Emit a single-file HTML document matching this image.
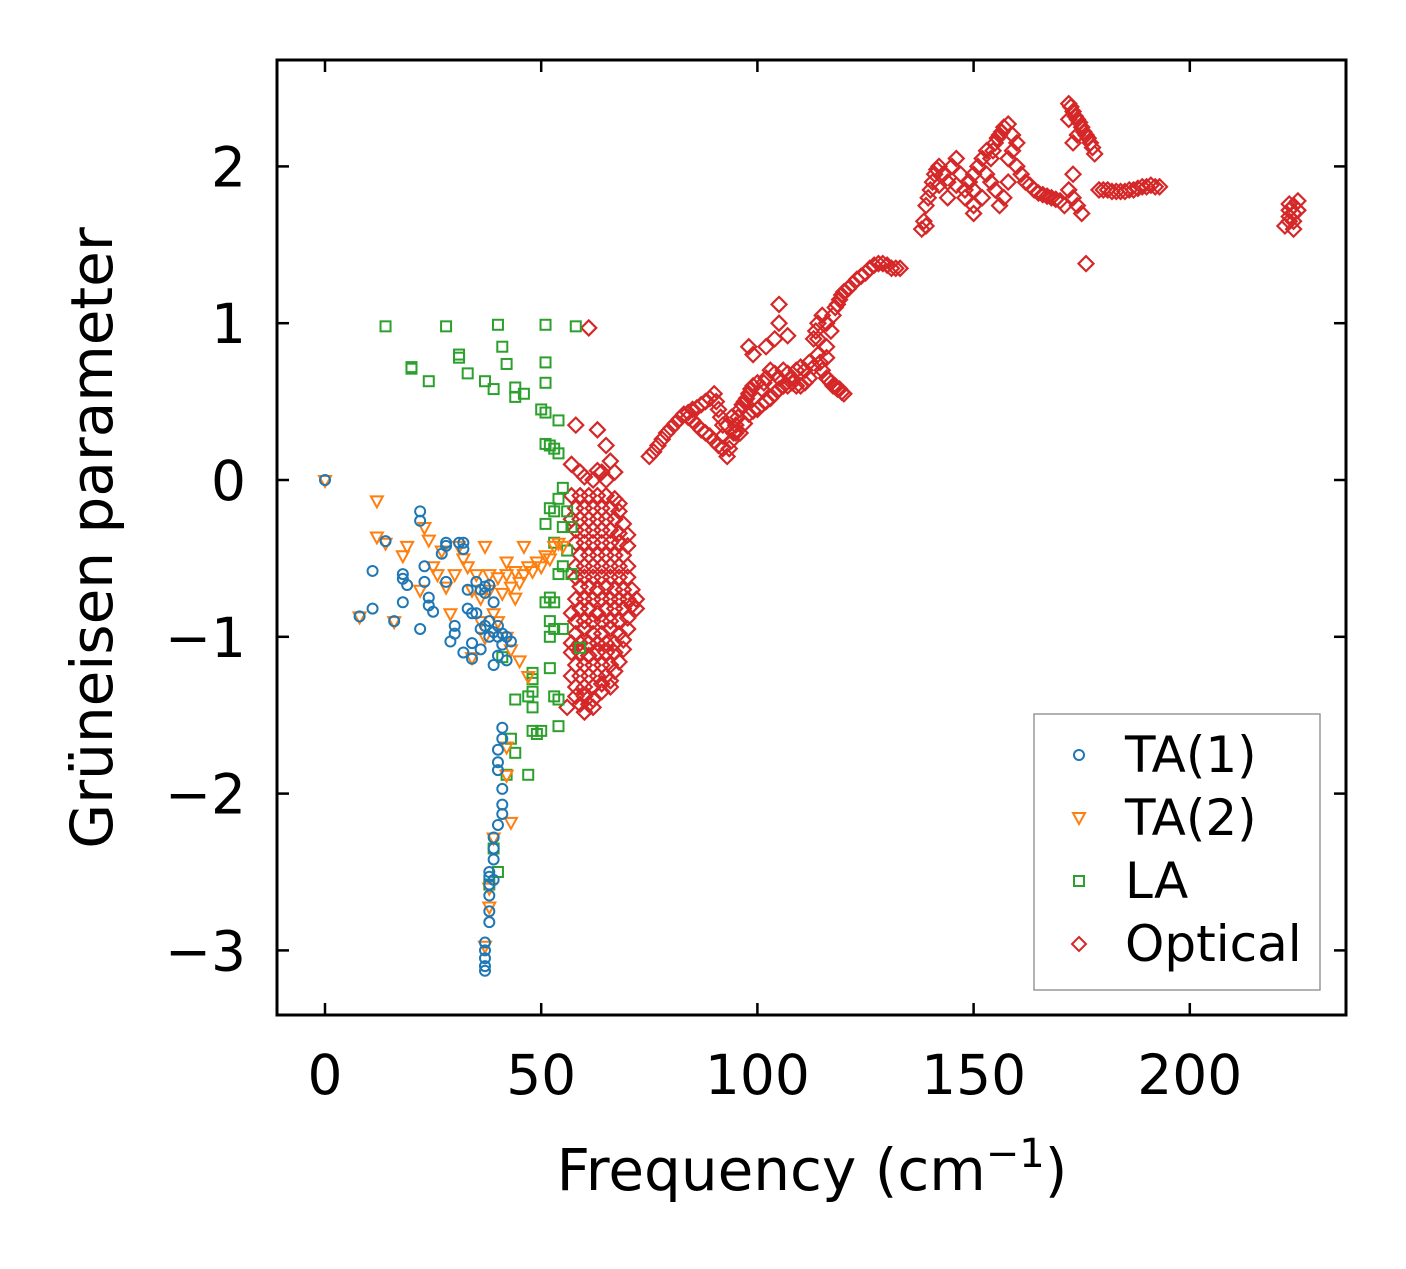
<!DOCTYPE html>
<html><head><meta charset="utf-8"><style>
body{margin:0;background:#fff}
svg text{font-family:"DejaVu Sans","Liberation Sans",sans-serif;fill:#000}
</style></head><body>
<svg id="chart" width="1406" height="1264" viewBox="0 0 1406 1264" xmlns="http://www.w3.org/2000/svg">
<rect width="1406" height="1264" fill="#fff"/>
<g id="marks"></g>
<rect x="277" y="60" width="1069" height="955" fill="none" stroke="#000" stroke-width="3"/>
<g id="ticks"></g>
<text x="812" y="1190" font-size="58" text-anchor="middle">Frequency (cm<tspan dy="-23" font-size="40">−1</tspan><tspan dy="23">)</tspan></text>
<text transform="translate(112,538) rotate(-90)" font-size="58" text-anchor="middle">Grüneisen parameter</text>
<g>
<rect x="1034" y="714" width="286" height="276" fill="#fff" stroke="#999" stroke-width="1.5"/>
<circle cx="1079" cy="755" r="5" fill="none" stroke="#1f77b4" stroke-width="2"/>
<text x="1125" y="772" font-size="50">TA(1)</text>
<path d="M1073,813 L1085,813 L1079,824 Z" fill="none" stroke="#ff7f0e" stroke-width="2"/>
<text x="1125" y="835" font-size="50">TA(2)</text>
<rect x="1074" y="876" width="10" height="10" fill="none" stroke="#2ca02c" stroke-width="2"/>
<text x="1125" y="898" font-size="50">LA</text>
<path d="M1079,937 L1086,944 L1079,951 L1072,944 Z" fill="none" stroke="#d62728" stroke-width="2"/>
<text x="1125" y="961" font-size="50">Optical</text>
</g>
</svg>
<script>
const xTicks=[0,50,100,150,200];
const yTicks=[2,1,0,-1,-2,-3];
const yTickLabels=["2","1","0","−1","−2","−3"];
const ta1=[[0,0],[8,-0.87],[11,-0.82],[11,-0.58],[14,-0.39],[16,-0.9],[18,-0.6],[18,-0.63],[18,-0.78],[19,-0.67],[22,-0.2],[22,-0.26],[22,-0.95],[23,-0.55],[23,-0.65],[24,-0.75],[24,-0.8],[25,-0.84],[27,-0.47],[28,-0.4],[28,-0.42],[28,-0.65],[29,-1.03],[30,-0.93],[30,-0.98],[31,-0.4],[32,-0.4],[32,-0.44],[32,-1.1],[33,-0.7],[33,-0.82],[34,-0.85],[34,-1.04],[34,-1.14],[35,-0.85],[35,-0.65],[36,-0.7],[36,-1.08],[37,-0.72],[37,-0.93],[38,-0.9],[38,-0.67],[38,-1.0],[39,-0.78],[39,-1.18],[40,-0.93],[40,-1.0],[40,-1.12],[41,-0.98],[41,-1.05],[42,-1.15],[42,-1.0],[43,-1.03],[41,-1.58],[41,-1.65],[40,-1.72],[40,-1.8],[40,-1.85],[41,-1.97],[41,-2.07],[41,-2.13],[40,-2.2],[39,-2.28],[39,-2.35],[39,-2.42],[38,-2.5],[38,-2.53],[38,-2.58],[38,-2.65],[38,-2.75],[38,-2.82],[37,-2.95],[37,-3.0],[37,-3.05],[37,-3.1],[37,-3.13],[39,-2.55],[36,-0.95],[37,-0.68],[39,-0.97]];
const ta2=[[0,0],[8,-0.87],[12,-0.13],[12,-0.36],[14,-0.4],[16,-0.9],[18,-0.48],[19,-0.42],[22,-0.7],[23,-0.3],[24,-0.38],[25,-0.55],[26,-0.6],[27,-0.45],[28,-0.68],[29,-0.85],[30,-0.6],[31,-0.42],[32,-0.5],[33,-0.55],[34,-0.7],[35,-0.6],[36,-0.75],[37,-0.42],[38,-0.7],[38,-0.6],[39,-0.85],[40,-0.62],[40,-0.9],[41,-0.72],[42,-0.6],[42,-0.52],[43,-0.68],[44,-0.75],[44,-0.58],[45,-0.65],[46,-0.6],[46,-0.42],[47,-0.55],[48,-0.58],[49,-0.52],[50,-0.55],[51,-0.48],[52,-0.5],[53,-0.42],[54,-0.4],[55,-0.42],[42,-1.0],[43,-1.08],[45,-1.15],[47,-1.25],[42,-1.7],[42,-1.88],[43,-2.18],[39,-2.28],[38,-2.6],[38,-2.72],[37,-2.97],[34,-1.13],[37,-1.0],[36,-0.9]];
const la=[[14,0.98],[20,0.71],[20,0.72],[24,0.63],[28,0.98],[31,0.8],[31,0.78],[33,0.68],[37,0.63],[39,0.58],[40,0.99],[41,0.85],[42,0.74],[44,0.59],[44,0.53],[46,0.55],[51,0.99],[51,0.75],[51,0.62],[50,0.45],[51,0.43],[51,0.23],[52,0.22],[54,0.38],[53,0.2],[54,0.17],[58,0.98],[52,-0.18],[51,-0.28],[53,-0.2],[54,-0.12],[55,-0.3],[56,-0.45],[55,-0.55],[53,-0.4],[54,-0.6],[52,-0.75],[51,-0.78],[53,-0.78],[52,-0.9],[53,-0.95],[52,-1.0],[55,-0.95],[57,-0.3],[57,-0.6],[59,-1.07],[52,-1.2],[48,-1.27],[48,-1.23],[48,-1.35],[47,-1.38],[44,-1.4],[48,-1.45],[48,-1.6],[49,-1.62],[50,-1.6],[53,-1.38],[54,-1.4],[54,-1.57],[47,-1.88],[44,-1.74],[43,-1.65],[42,-1.88],[40,-2.5],[39,-2.35],[38,-2.58],[41,-1.13],[55,-0.05],[56,-0.2]];
const optical=[[61,0.97],[58,0.35],[63,0.32],[65,0.22],
[57,0.1],[59,0.05],[62,0.0],[64,0.05],[66,0.12],[67,0.05],[60,0.02],[63,0.06],[65,0.0],
[57,-0.1],[59,-0.1],[61,-0.1],[63,-0.1],[65,-0.1],[67,-0.12],[68,-0.15],
[58,-0.18],[60,-0.18],[62,-0.18],[64,-0.18],[66,-0.18],[68,-0.2],
[57,-0.25],[59,-0.25],[61,-0.25],[63,-0.25],[65,-0.25],[67,-0.25],[69,-0.28],
[58,-0.32],[60,-0.32],[62,-0.32],[64,-0.32],[66,-0.32],[68,-0.34],[70,-0.35],
[58,-0.4],[60,-0.4],[62,-0.4],[64,-0.4],[66,-0.4],[68,-0.4],[70,-0.42],
[59,-0.48],[61,-0.48],[63,-0.48],[65,-0.48],[67,-0.48],[69,-0.48],
[58,-0.55],[60,-0.55],[62,-0.55],[64,-0.55],[66,-0.55],[68,-0.55],[70,-0.55],
[58,-0.62],[60,-0.62],[62,-0.62],[64,-0.62],[66,-0.62],[68,-0.62],[70,-0.62],
[59,-0.68],[61,-0.68],[63,-0.7],[65,-0.68],[67,-0.7],[69,-0.7],[71,-0.7],
[58,-0.76],[60,-0.76],[62,-0.76],[64,-0.76],[66,-0.76],[68,-0.76],[70,-0.76],[72,-0.76],
[57,-0.85],[59,-0.82],[61,-0.82],[63,-0.85],[65,-0.82],[67,-0.82],[69,-0.82],[71,-0.8],[72,-0.82],
[58,-0.9],[60,-0.9],[62,-0.9],[64,-0.9],[66,-0.9],[68,-0.9],[70,-0.88],
[58,-0.98],[60,-0.95],[62,-0.98],[64,-0.98],[66,-0.95],[68,-0.98],[70,-0.95],
[57,-1.04],[59,-1.04],[61,-1.04],[63,-1.04],[65,-1.04],[67,-1.04],[69,-1.02],
[57,-1.1],[59,-1.1],[61,-1.12],[63,-1.1],[65,-1.1],[67,-1.1],[69,-1.08],
[58,-1.18],[60,-1.18],[62,-1.18],[64,-1.18],[66,-1.18],[68,-1.16],
[57,-1.25],[59,-1.25],[61,-1.25],[63,-1.25],[65,-1.25],[67,-1.22],
[58,-1.32],[60,-1.32],[62,-1.32],[64,-1.3],[66,-1.28],
[58,-1.38],[60,-1.38],[62,-1.4],[64,-1.35],[66,-1.32],[56,-1.45],[60,-1.48],[62,-1.45],[59,-1.43],[61,-1.43],
[75,0.15],[76,0.18],[77,0.22],[78,0.26],[79,0.3],[80,0.33],[81,0.36],[82,0.39],[83,0.42],[84,0.43],[85,0.45],[86,0.46],[87,0.48],[88,0.5],[89,0.52],[90,0.55],[90.5,0.5],[91,0.45],[91.5,0.4],[92,0.35],[92,0.28],[92,0.2],[93,0.15],[93.5,0.2],[94,0.25],[94.5,0.3],[95,0.35],[95.5,0.4],[96,0.45],[96.5,0.48],[97,0.5],[97.5,0.52],[98,0.55],[98.5,0.58],[99,0.6],[100,0.62],[101,0.58],[101.5,0.62],[102,0.65],[103,0.7],[104,0.68],[105,0.65],[106,0.7],[107,0.68],[108,0.65],[109,0.7],[110,0.72],[111,0.7],[112,0.75],[113,0.72],
[84,0.4],[85,0.38],[86,0.35],[87,0.32],[88,0.3],[89,0.28],[90,0.25],[91,0.22],[93,0.35],[94,0.4],[95,0.3],[96,0.3],[97,0.36],[98,0.42],[99,0.44],[100,0.45],[101,0.48],[102,0.5],[103,0.52],[104,0.55],[105,0.58],[106,0.6],[107,0.6],[108,0.62],[109,0.6],[110,0.6],[111,0.62],[112,0.65],[114,0.8],[114.5,0.75],[115,0.7],[116,0.65],[116.5,0.64],[117,0.62],[117.5,0.6],[118,0.6],[118.5,0.58],[119,0.58],[119.5,0.56],[120,0.55],
[113,0.9],[113.5,0.95],[114,1.0],[115,1.05],[116,1.0],[117,0.95],[117.5,1.05],[118,1.1],[118.5,1.12],[119,1.15],[119.5,1.18],[120,1.2],[121,1.22],[122,1.25],[123,1.28],[124,1.3],[125,1.32],[126,1.35],[127,1.37],[128,1.38],[129,1.38],[130,1.37],[131,1.35],[132,1.35],[133,1.35],[114,0.9],[116,0.85],[116,0.78],
[98,0.85],[99,0.8],[102,0.85],[105,1.12],[105,1.0],[107,0.92],[104,0.9],
[138,1.6],[138.5,1.65],[139,1.75],[139.5,1.8],[140,1.85],[140.5,1.9],[141,1.95],[141.5,1.98],[142,2.0],[143,1.95],[144,1.9],[145,2.0],[146,2.05],[147,1.95],[148,1.85],[149,1.9],[150,1.75],[150,1.95],[151,2.0],[152,2.05],[153,2.1],[154,2.05],[154.5,2.1],[155,2.15],[155.5,2.18],[156,2.2],[156.5,2.22],[157,2.25],[158,2.27],[159,2.2],[159,2.1],[160,2.0],[161,1.95],[162,1.9],[158,1.9],[157,1.8],[156,1.75],[155,1.85],[153,1.95],[152,1.8],[144,1.8],[148,1.8],[142,1.88],[146,1.88],[150,1.85],[154,1.9],[158,2.05],[160,2.15],[139,1.62],[150,1.7],
[163,1.88],[164,1.85],[165,1.83],[166,1.82],[167,1.81],[168,1.8],[169,1.79],[170,1.78],[171,1.75],[172,1.85],[173,1.95],[173,1.8],[174,1.75],[175,1.7],[176,1.38],
[172,2.4],[172.5,2.38],[173,2.35],[173.5,2.32],[174,2.3],[174.5,2.28],[175,2.25],[175.5,2.22],[176,2.2],[176.5,2.18],[177,2.15],[177.5,2.12],[178,2.08],[172,2.3],[174,2.2],[173,2.15],
[179,1.85],[180,1.85],[181,1.85],[182,1.84],[183,1.84],[184,1.84],[185,1.84],[186,1.85],[187,1.85],[188,1.86],[189,1.87],[190,1.87],[191,1.88],[192,1.87],[193,1.87],
[222,1.62],[223,1.65],[224,1.7],[224,1.75],[225,1.78],[223,1.72],[224,1.6],[223,1.68],[224,1.65],[225,1.72],[223,1.76]];

const X0=325,XS=4.324,Y0=480,YS=156.8;
function xs(v){return X0+v*XS;}
function ys(v){return Y0-v*YS;}
const NS="http://www.w3.org/2000/svg";
const marks=document.getElementById('marks');
function mk(tag,attrs){const e=document.createElementNS(NS,tag);for(const k in attrs)e.setAttribute(k,attrs[k]);return e;}
optical.forEach(p=>{const x=xs(p[0]),y=ys(p[1]);
 const e=mk('path',{d:`M${x},${y-7.5} L${x+7.5},${y} L${x},${y+7.5} L${x-7.5},${y} Z`,fill:'none',stroke:'#d62728','stroke-width':2.2});
 
 
 marks.appendChild(e);});
la.forEach(p=>{const x=xs(p[0]),y=ys(p[1]);
 const e=mk('rect',{x:x-5,y:y-5,width:10,height:10,fill:'none',stroke:'#2ca02c','stroke-width':2});
 
 
 marks.appendChild(e);});
ta2.forEach(p=>{const x=xs(p[0]),y=ys(p[1]);
 const e=mk('path',{d:`M${x-6},${y-4} L${x+6},${y-4} L${x},${y+7} Z`,fill:'none',stroke:'#ff7f0e','stroke-width':2});
 
 
 marks.appendChild(e);});
ta1.forEach(p=>{const e=mk('circle',{cx:xs(p[0]),cy:ys(p[1]),r:5,fill:'none',stroke:'#1f77b4','stroke-width':2});
 
 
 marks.appendChild(e);});
const tg=document.getElementById('ticks');
xTicks.forEach(v=>{const x=xs(v);
 tg.appendChild(mk('line',{x1:x,x2:x,y1:1015,y2:1003,stroke:'#000','stroke-width':2.5}));
 tg.appendChild(mk('line',{x1:x,x2:x,y1:60,y2:72,stroke:'#000','stroke-width':2.5}));
 const t=mk('text',{x:x,y:1094,'font-size':55,'text-anchor':'middle'});t.textContent=v;
 
 
 tg.appendChild(t);});
yTicks.forEach((v,i)=>{const y=ys(v);
 tg.appendChild(mk('line',{x1:277,x2:289,y1:y,y2:y,stroke:'#000','stroke-width':2.5}));
 tg.appendChild(mk('line',{x1:1346,x2:1334,y1:y,y2:y,stroke:'#000','stroke-width':2.5}));
 const t=mk('text',{x:246,y:y+20,'font-size':55,'text-anchor':'end'});t.textContent=yTickLabels[i];
 
 
 tg.appendChild(t);});
</script>
</body></html>
